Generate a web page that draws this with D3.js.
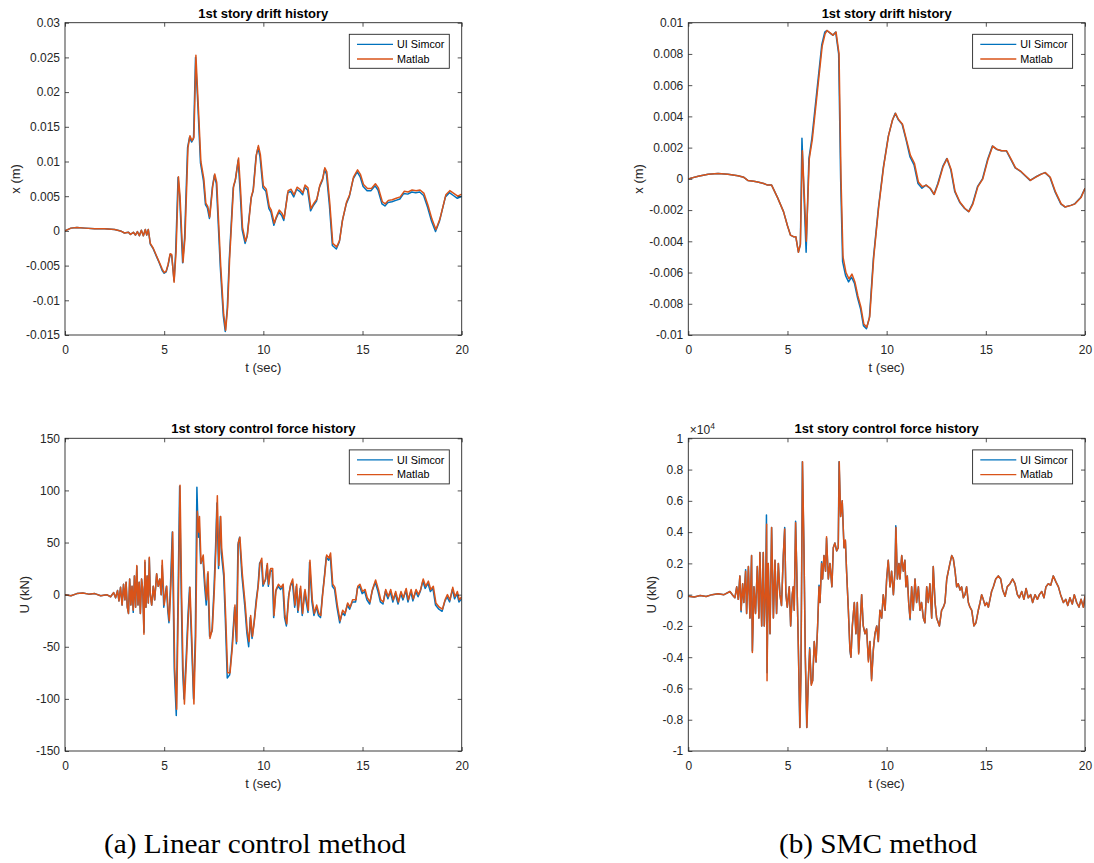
<!DOCTYPE html>
<html>
<head>
<meta charset="utf-8">
<script src="https://cdn.jsdelivr.net/npm/d3@7/dist/d3.min.js"></script>
<style>
  html, body { margin: 0; padding: 0; background: #fff; }
  svg { display: block; }
  text { font-family: "Liberation Sans", Arial, sans-serif; }
</style>
</head>
<body>
<svg id="chart" width="1094" height="863"></svg>
<script>
// ---------------- DATA ----------------
const timeTicks = [0, 5, 10, 15, 20];
const driftATicks = [-0.015, -0.01, -0.005, 0, 0.005, 0.01, 0.015, 0.02, 0.025, 0.03];
const driftBTicks = [-0.01, -0.008, -0.006, -0.004, -0.002, 0, 0.002, 0.004, 0.006, 0.008, 0.01];
const forceATicks = [-150, -100, -50, 0, 50, 100, 150];
const forceBTicks = [-10000, -8000, -6000, -4000, -2000, 0, 2000, 4000, 6000, 8000, 10000];
const seriesNames = ["UI Simcor", "Matlab"];
const panelTitles = ["1st story drift history", "1st story drift history", "1st story control force history", "1st story control force history"];
const captions = ["(a) Linear control method", "(b) SMC method"];

// (a) Linear control - drift x (m) vs t (sec)
const driftA_Matlab = [[0,0],[0.3,0.0004],[0.6,0.0005],[1,0.0004],[1.5,0.0003],[2,0.0003],[2.5,0.0002],[2.8,0],[3,-0.0003],[3.2,-0.0002],[3.3,-0.0005],[3.45,-0.0002],[3.55,-0.0006],[3.65,-0.0001],[3.75,-0.0007],[3.85,0.0001],[3.95,-0.0007],[4.05,0.0002],[4.12,-0.0006],[4.2,0.0002],[4.3,-0.0018],[4.45,-0.0025],[4.6,-0.0035],[4.75,-0.0045],[4.9,-0.0055],[5.0,-0.006],[5.1,-0.0058],[5.2,-0.0048],[5.3,-0.0033],[5.38,-0.0034],[5.5,-0.0074],[5.6,-0.003],[5.72,0.0078],[5.8,0.005],[5.95,-0.0045],[6.05,-0.001],[6.2,0.012],[6.3,0.0137],[6.4,0.013],[6.5,0.0135],[6.6,0.0253],[6.72,0.018],[6.85,0.01],[7.0,0.0075],[7.1,0.004],[7.2,0.0035],[7.3,0.002],[7.45,0.0065],[7.55,0.0082],[7.65,0.007],[7.75,0.001],[7.85,-0.005],[8.0,-0.012],[8.1,-0.0143],[8.2,-0.011],[8.3,-0.004],[8.5,0.0065],[8.6,0.0075],[8.75,0.0105],[8.85,0.006],[8.95,0.0005],[9.1,-0.0015],[9.2,-0.0005],[9.4,0.005],[9.5,0.006],[9.65,0.011],[9.75,0.0123],[9.85,0.011],[10.0,0.0065],[10.15,0.006],[10.3,0.0035],[10.4,0.003],[10.55,0.0011],[10.65,0.002],[10.8,0.003],[10.95,0.0025],[11.05,0.0018],[11.25,0.0058],[11.4,0.006],[11.55,0.0052],[11.7,0.0063],[11.85,0.006],[12.0,0.0055],[12.1,0.0066],[12.25,0.0062],[12.4,0.0032],[12.55,0.004],[12.7,0.0046],[12.85,0.0066],[13.0,0.0076],[13.1,0.0091],[13.2,0.0085],[13.35,0.004],[13.5,-0.0018],[13.7,-0.0023],[13.85,-0.0013],[14.0,0.0017],[14.2,0.0042],[14.35,0.0052],[14.55,0.0078],[14.75,0.0088],[14.9,0.0081],[15.05,0.0067],[15.25,0.0061],[15.45,0.0061],[15.65,0.0068],[15.8,0.0062],[16.0,0.0042],[16.15,0.0039],[16.3,0.0044],[16.5,0.0045],[16.7,0.0047],[16.9,0.0049],[17.1,0.0057],[17.3,0.0056],[17.5,0.0059],[17.7,0.0058],[17.9,0.0059],[18.1,0.0054],[18.3,0.0037],[18.5,0.0017],[18.7,0.0002],[18.9,0.0017],[19.2,0.0052],[19.4,0.0058],[19.6,0.0054],[19.8,0.005],[20,0.0053]];
const driftA_Simcor = [[0,0],[0.3,0.0004],[0.6,0.0005],[1,0.0004],[1.5,0.0003],[2,0.0003],[2.5,0.0002],[2.8,0],[3,-0.0003],[3.2,-0.0002],[3.3,-0.0005],[3.45,-0.0002],[3.55,-0.0006],[3.65,-0.0001],[3.75,-0.0007],[3.85,0.0001],[3.95,-0.0007],[4.05,0.0002],[4.12,-0.0006],[4.2,0.0002],[4.3,-0.0019],[4.45,-0.0026],[4.6,-0.0036],[4.75,-0.0046],[4.9,-0.0057],[5.0,-0.0061],[5.1,-0.0059],[5.2,-0.0049],[5.3,-0.0034],[5.38,-0.0036],[5.5,-0.0072],[5.58,-0.003],[5.7,0.0077],[5.78,0.005],[5.93,-0.0046],[6.03,-0.001],[6.18,0.012],[6.28,0.0135],[6.38,0.0128],[6.48,0.0133],[6.58,0.025],[6.7,0.018],[6.83,0.0098],[6.98,0.0072],[7.08,0.0038],[7.18,0.0033],[7.28,0.0018],[7.43,0.0063],[7.53,0.008],[7.63,0.0068],[7.73,0.0008],[7.83,-0.0052],[7.98,-0.0122],[8.08,-0.0145],[8.18,-0.0112],[8.28,-0.0042],[8.48,0.0062],[8.58,0.0072],[8.73,0.0102],[8.83,0.0057],[8.93,0.0002],[9.08,-0.0018],[9.18,-0.0008],[9.38,0.0047],[9.48,0.0057],[9.63,0.0107],[9.73,0.012],[9.83,0.0107],[9.98,0.0062],[10.13,0.0057],[10.28,0.0032],[10.38,0.0027],[10.53,0.0008],[10.63,0.0017],[10.78,0.0027],[10.93,0.0022],[11.03,0.0015],[11.23,0.0055],[11.38,0.0057],[11.53,0.0049],[11.68,0.006],[11.83,0.0057],[11.98,0.0052],[12.08,0.0063],[12.23,0.0059],[12.38,0.0029],[12.53,0.0037],[12.68,0.0043],[12.83,0.0063],[12.98,0.0073],[13.08,0.0088],[13.18,0.0082],[13.33,0.0037],[13.48,-0.0021],[13.68,-0.0026],[13.83,-0.0016],[13.98,0.0014],[14.18,0.0039],[14.33,0.0049],[14.53,0.0075],[14.73,0.0085],[14.88,0.0078],[15.03,0.0064],[15.23,0.0058],[15.43,0.0058],[15.63,0.0065],[15.78,0.0059],[15.98,0.0039],[16.13,0.0036],[16.28,0.0041],[16.48,0.0042],[16.68,0.0044],[16.88,0.0046],[17.08,0.0054],[17.28,0.0053],[17.48,0.0056],[17.68,0.0055],[17.88,0.0056],[18.08,0.0051],[18.28,0.0034],[18.48,0.0014],[18.68,-0.0001],[18.88,0.0014],[19.18,0.0049],[19.38,0.0055],[19.58,0.0051],[19.78,0.0047],[20,0.005]];

// (b) SMC - drift x (m) vs t (sec)
const driftB_Matlab = [[0,0],[0.5,0.00017],[1,0.0003],[1.5,0.00035],[2,0.0003],[2.5,0.0002],[2.8,0.0001],[3,-0.0001],[3.3,-0.00015],[3.5,-0.0002],[3.8,-0.0003],[4,-0.0004],[4.2,-0.0004],[4.5,-0.0012],[4.8,-0.0021],[5.0,-0.003],[5.15,-0.0036],[5.3,-0.0037],[5.42,-0.0037],[5.55,-0.0047],[5.65,-0.0042],[5.75,0.0018],[5.85,-0.001],[5.95,-0.004],[6.1,0.0013],[6.25,0.0025],[6.5,0.0055],[6.75,0.0085],[6.9,0.0093],[7.0,0.0095],[7.2,0.0093],[7.3,0.0092],[7.45,0.0094],[7.6,0.008],[7.7,0.0],[7.8,-0.005],[7.95,-0.006],[8.1,-0.0064],[8.25,-0.0061],[8.4,-0.0066],[8.55,-0.0075],[8.7,-0.0082],[8.85,-0.0093],[9.0,-0.0095],[9.15,-0.0088],[9.35,-0.005],[9.6,-0.0018],[9.85,0.0008],[10.1,0.0028],[10.3,0.0038],[10.45,0.0042],[10.6,0.0038],[10.8,0.0035],[11.0,0.0025],[11.2,0.0015],[11.4,0.001],[11.6,-0.0002],[11.8,-0.0005],[12.0,-0.0004],[12.2,-0.0006],[12.4,-0.001],[12.6,-0.0003],[12.85,0.0008],[13.05,0.0013],[13.25,0.0006],[13.45,-0.0008],[13.7,-0.0015],[13.95,-0.0019],[14.15,-0.0021],[14.35,-0.0016],[14.6,-0.0005],[14.85,0.0],[15.1,0.0012],[15.35,0.0021],[15.55,0.0019],[15.8,0.0018],[16.05,0.0018],[16.3,0.0012],[16.5,0.0007],[16.75,0.0005],[17.0,0.0002],[17.25,-0.0001],[17.5,0.0001],[17.8,0.0003],[18.0,0.0004],[18.25,0.0001],[18.5,-0.0008],[18.8,-0.0016],[19.0,-0.0018],[19.3,-0.0017],[19.5,-0.0016],[19.8,-0.0012],[20,-0.0006]];
const driftB_Simcor = [[0,0],[0.5,0.00017],[1,0.0003],[1.5,0.00035],[2,0.0003],[2.5,0.0002],[2.8,0.0001],[3,-0.0001],[3.3,-0.00015],[3.5,-0.0002],[3.8,-0.0003],[4,-0.0004],[4.2,-0.0004],[4.5,-0.0012],[4.8,-0.0021],[5.0,-0.003],[5.15,-0.0036],[5.3,-0.0037],[5.42,-0.0037],[5.55,-0.0047],[5.65,-0.0042],[5.73,0.0026],[5.83,-0.001],[5.94,-0.0047],[6.08,0.0013],[6.23,0.0026],[6.48,0.0056],[6.73,0.0086],[6.88,0.0094],[6.98,0.0095],[7.18,0.0093],[7.28,0.0092],[7.43,0.0094],[7.58,0.008],[7.68,0.0],[7.78,-0.0053],[7.93,-0.0062],[8.08,-0.0066],[8.23,-0.0063],[8.38,-0.0067],[8.53,-0.0076],[8.68,-0.0083],[8.83,-0.0094],[8.98,-0.0096],[9.13,-0.0089],[9.33,-0.0051],[9.58,-0.0019],[9.83,0.0007],[10.08,0.0027],[10.28,0.0037],[10.43,0.0042],[10.58,0.0038],[10.78,0.0035],[10.98,0.0025],[11.18,0.0014],[11.38,0.0009],[11.58,-0.0003],[11.78,-0.0006],[11.98,-0.0004],[12.18,-0.0006],[12.38,-0.001],[12.58,-0.0003],[12.83,0.0008],[13.03,0.0013],[13.23,0.0006],[13.43,-0.0008],[13.68,-0.0015],[13.93,-0.0019],[14.13,-0.0021],[14.33,-0.0016],[14.58,-0.0005],[14.83,0.0],[15.08,0.0012],[15.33,0.0021],[15.53,0.0019],[15.78,0.0018],[16.03,0.0018],[16.28,0.0012],[16.48,0.0007],[16.73,0.0005],[16.98,0.0002],[17.23,-0.0001],[17.48,0.0001],[17.78,0.0003],[17.98,0.0004],[18.23,0.0001],[18.48,-0.0008],[18.78,-0.0016],[18.98,-0.0018],[19.28,-0.0017],[19.48,-0.0016],[19.78,-0.0012],[20,-0.0006]];

// (a) Linear control - control force U (kN) vs t (sec)
const forceA_Matlab = [[0,0],[0.3,-1],[0.6,1],[0.9,1.5],[1.2,0.5],[1.5,1],[1.8,-1],[2.1,0],[2.3,-2],[2.45,2],[2.55,-3],[2.65,4],[2.72,-6],[2.8,7],[2.88,-10],[2.95,10],[3.02,-5],[3.08,12],[3.14,-12],[3.2,-18],[3.26,15],[3.32,-10],[3.38,8],[3.44,-15],[3.5,18],[3.56,-12],[3.62,28],[3.68,-10],[3.74,12],[3.8,-18],[3.86,15],[3.92,5],[3.98,-38],[4.03,33],[4.08,-12],[4.14,18],[4.2,-8],[4.25,36],[4.3,0],[4.37,-10],[4.45,8],[4.52,-5],[4.62,20],[4.7,8],[4.78,15],[4.85,0],[4.9,33],[5.0,-10],[5.07,0],[5.13,8],[5.2,-15],[5.26,-25],[5.34,10],[5.43,60],[5.53,-70],[5.63,-110],[5.72,0],[5.8,105],[5.88,0],[5.95,-70],[6.02,-105],[6.13,-60],[6.22,-20],[6.3,7],[6.39,-40],[6.5,-105],[6.59,-40],[6.67,80],[6.74,60],[6.78,75],[6.86,30],[6.97,38],[7.06,10],[7.14,-5],[7.21,22],[7.31,-42],[7.43,-33],[7.53,5],[7.61,45],[7.68,95],[7.76,28],[7.85,75],[7.9,45],[8.02,20],[8.1,-20],[8.2,-75],[8.32,-75],[8.44,-50],[8.57,-10],[8.66,-45],[8.74,50],[8.82,55],[8.94,20],[9.08,-8],[9.19,-35],[9.28,-45],[9.36,-20],[9.45,-40],[9.55,-25],[9.66,-5],[9.75,10],[9.83,30],[9.92,35],[10.0,10],[10.12,15],[10.2,30],[10.27,10],[10.37,25],[10.47,25],[10.54,-20],[10.64,5],[10.76,10],[10.89,7],[11.0,10],[11.09,-20],[11.18,-28],[11.29,0],[11.38,10],[11.48,15],[11.6,-10],[11.68,10],[11.76,-15],[11.88,8],[11.98,-18],[12.1,5],[12.18,-5],[12.27,-15],[12.35,33],[12.47,-5],[12.57,-18],[12.69,-10],[12.8,-18],[12.9,-20],[12.99,0],[13.1,20],[13.19,38],[13.31,35],[13.39,40],[13.5,10],[13.61,7],[13.73,-10],[13.87,-25],[14.0,-15],[14.12,-18],[14.25,-8],[14.37,-12],[14.5,-5],[14.67,-5],[14.76,8],[14.87,10],[15.0,3],[15.13,5],[15.24,-3],[15.38,-7],[15.5,5],[15.66,14],[15.8,5],[15.92,-5],[16.05,-7],[16.17,5],[16.3,-2],[16.42,5],[16.55,-5],[16.67,3],[16.81,-7],[16.94,3],[17.06,-3],[17.2,6],[17.31,-5],[17.45,5],[17.56,-4],[17.7,5],[17.82,0],[17.93,5],[18.06,15],[18.18,8],[18.32,13],[18.44,5],[18.57,8],[18.7,-8],[18.87,-12],[19.03,-14],[19.16,-5],[19.28,0],[19.41,-5],[19.55,7],[19.66,-2],[19.78,3],[19.88,-5],[20,-2]];
const forceA_Simcor = [[0,0],[0.3,-1],[0.6,1],[0.9,1.5],[1.2,0.5],[1.5,1],[1.8,-1],[2.1,0],[2.3,-2],[2.45,2],[2.55,-3],[2.65,4],[2.72,-6],[2.8,7],[2.88,-10],[2.95,10],[3.02,-5],[3.08,12],[3.14,-12],[3.2,-18],[3.26,15],[3.32,-10],[3.38,8],[3.44,-17],[3.5,18],[3.56,-12],[3.62,27],[3.68,-10],[3.74,12],[3.8,-18],[3.86,15],[3.92,5],[3.98,-36],[4.03,31],[4.08,-12],[4.14,18],[4.2,-8],[4.25,35],[4.3,0],[4.37,-10],[4.45,8],[4.52,-5],[4.62,20],[4.7,8],[4.78,15],[4.85,0],[4.9,28],[4.98,-12],[5.05,0],[5.11,8],[5.18,-15],[5.24,-27],[5.32,10],[5.41,60],[5.51,-72],[5.61,-116],[5.7,0],[5.78,104],[5.86,0],[5.93,-72],[6.0,-100],[6.11,-60],[6.2,-20],[6.28,7],[6.37,-40],[6.48,-100],[6.57,-40],[6.65,103],[6.72,55],[6.76,70],[6.84,30],[6.95,36],[7.04,8],[7.12,-10],[7.19,20],[7.29,-40],[7.41,-35],[7.51,5],[7.59,45],[7.66,88],[7.74,25],[7.83,75],[7.88,40],[8.0,18],[8.08,-22],[8.18,-80],[8.3,-77],[8.42,-50],[8.55,-12],[8.64,-47],[8.72,48],[8.8,55],[8.92,18],[9.06,-10],[9.17,-37],[9.26,-50],[9.34,-22],[9.43,-42],[9.53,-27],[9.64,-5],[9.73,8],[9.81,30],[9.9,33],[9.98,8],[10.1,14],[10.18,28],[10.25,8],[10.35,24],[10.45,22],[10.52,-22],[10.62,3],[10.74,8],[10.87,5],[10.98,8],[11.07,-22],[11.16,-30],[11.27,-2],[11.36,8],[11.46,13],[11.58,-12],[11.66,8],[11.74,-17],[11.86,6],[11.96,-20],[12.08,3],[12.16,-7],[12.25,-17],[12.33,31],[12.45,-7],[12.55,-20],[12.67,-12],[12.78,-20],[12.88,-22],[12.97,-2],[13.08,18],[13.17,36],[13.29,33],[13.37,38],[13.48,8],[13.59,5],[13.71,-12],[13.85,-27],[13.98,-17],[14.1,-20],[14.23,-10],[14.35,-14],[14.48,-7],[14.65,-7],[14.74,6],[14.85,8],[14.98,1],[15.11,3],[15.22,-5],[15.36,-9],[15.48,3],[15.64,12],[15.78,3],[15.9,-7],[16.03,-9],[16.15,3],[16.28,-4],[16.4,3],[16.53,-7],[16.65,1],[16.79,-9],[16.92,1],[17.04,-5],[17.18,4],[17.29,-7],[17.43,3],[17.54,-6],[17.68,3],[17.8,-2],[17.91,3],[18.04,13],[18.16,6],[18.3,11],[18.42,3],[18.55,6],[18.68,-10],[18.85,-14],[19.01,-16],[19.14,-7],[19.26,-2],[19.39,-7],[19.53,5],[19.64,-4],[19.76,1],[19.86,-7],[20,-4]];

// (b) SMC - control force U (kN) vs t (sec)
const forceB_Matlab = [[0,-100],[0.3,-150],[0.6,-50],[0.9,-120],[1.2,0],[1.5,50],[1.8,0],[2.1,200],[2.25,-50],[2.35,-200],[2.44,500],[2.52,-300],[2.6,1200],[2.66,-1000],[2.74,700],[2.8,-500],[2.89,1500],[2.94,-1200],[3.03,1800],[3.11,-1500],[3.19,2500],[3.23,-3700],[3.31,500],[3.39,-1200],[3.48,1800],[3.56,-1500],[3.61,2700],[3.7,-2000],[3.78,2700],[3.83,-2000],[3.9,500],[3.95,4500],[3.97,-5500],[4.03,2000],[4.12,-2500],[4.2,4300],[4.29,-1500],[4.37,2200],[4.45,-1200],[4.54,2000],[4.62,0],[4.7,-700],[4.79,2500],[4.86,4200],[4.92,0],[4.99,-800],[5.09,500],[5.16,-2000],[5.24,0],[5.29,500],[5.34,-1000],[5.41,4600],[5.46,2000],[5.55,-3500],[5.63,-8500],[5.68,-5000],[5.76,8500],[5.83,3000],[5.9,-4000],[5.98,-8500],[6.05,-5500],[6.12,-3500],[6.2,-5800],[6.27,-5500],[6.35,-3000],[6.44,-4300],[6.52,-2000],[6.59,500],[6.64,-500],[6.72,2000],[6.77,1000],[6.84,2500],[6.92,1500],[6.97,3700],[7.06,1000],[7.14,2000],[7.24,500],[7.31,3000],[7.39,3300],[7.48,2800],[7.56,3000],[7.61,8500],[7.68,5000],[7.76,6000],[7.85,3000],[7.92,3500],[7.98,1500],[8.07,-1000],[8.15,-3500],[8.2,-4000],[8.27,-2000],[8.37,-500],[8.45,-2500],[8.52,-500],[8.59,-3800],[8.66,-2000],[8.74,0],[8.82,-2000],[8.91,-2500],[8.99,-2200],[9.08,-4300],[9.16,-3000],[9.24,-5500],[9.33,-3500],[9.41,-2500],[9.5,-2000],[9.58,-3000],[9.66,-1000],[9.75,-1500],[9.83,0],[9.92,-1000],[10.0,1000],[10.08,2200],[10.17,500],[10.25,1500],[10.34,0],[10.42,1500],[10.47,4300],[10.54,1000],[10.62,2000],[10.67,1000],[10.76,2500],[10.84,1500],[10.92,2200],[10.97,500],[11.04,1200],[11.11,-500],[11.18,-1500],[11.26,500],[11.34,-1000],[11.43,1000],[11.51,-500],[11.6,500],[11.68,-1000],[11.76,-500],[11.85,-1500],[11.93,-1800],[12.02,500],[12.1,-500],[12.18,700],[12.27,-1500],[12.35,1800],[12.44,-500],[12.52,-1500],[12.66,-2000],[12.77,-1000],[12.86,-800],[12.94,-500],[13.03,1000],[13.11,1500],[13.19,2000],[13.28,2500],[13.36,2300],[13.45,1500],[13.53,500],[13.61,700],[13.7,300],[13.78,500],[13.87,-200],[13.95,0],[14.03,500],[14.12,-500],[14.2,-800],[14.29,-1000],[14.4,-2000],[14.5,-1800],[14.62,-1000],[14.71,-500],[14.79,0],[14.87,-300],[14.96,-700],[15.04,-500],[15.13,-800],[15.21,-300],[15.29,200],[15.38,500],[15.5,1000],[15.63,1200],[15.75,1000],[15.85,300],[15.97,-100],[16.08,500],[16.22,700],[16.35,1000],[16.47,700],[16.59,0],[16.69,-200],[16.81,200],[16.92,-300],[17.03,400],[17.14,-200],[17.26,0],[17.36,-500],[17.48,0],[17.6,-300],[17.7,0],[17.82,200],[17.93,-200],[18.03,500],[18.15,700],[18.27,600],[18.4,1200],[18.54,800],[18.66,500],[18.77,0],[18.91,-500],[19.03,-300],[19.13,-700],[19.24,-200],[19.36,-600],[19.46,0],[19.58,-500],[19.7,-800],[19.8,-300],[19.92,-800],[20,-100]];
const forceB_Simcor = [[0,-100],[0.3,-150],[0.6,-50],[0.9,-120],[1.2,0],[1.5,50],[1.8,0],[2.1,200],[2.25,-50],[2.35,-200],[2.44,500],[2.52,-300],[2.6,1200],[2.66,-1100],[2.74,700],[2.8,-500],[2.89,1600],[2.94,-1200],[3.03,1800],[3.11,-1500],[3.19,2500],[3.23,-3600],[3.31,500],[3.39,-1200],[3.48,1800],[3.56,-1500],[3.61,2700],[3.7,-2000],[3.78,2700],[3.83,-2000],[3.9,500],[3.94,5100],[3.97,-5000],[4.03,2000],[4.12,-2500],[4.2,4300],[4.29,-1500],[4.37,2200],[4.45,-1200],[4.54,2000],[4.62,0],[4.7,-700],[4.79,2500],[4.86,4300],[4.92,0],[4.99,-800],[5.09,500],[5.16,-2000],[5.24,0],[5.29,500],[5.34,-1000],[5.41,4700],[5.46,2000],[5.55,-3500],[5.62,-8500],[5.68,-5000],[5.75,8500],[5.83,3000],[5.9,-4000],[5.97,-8500],[6.05,-5500],[6.12,-3400],[6.2,-5700],[6.27,-5500],[6.35,-3000],[6.44,-4300],[6.52,-2000],[6.59,600],[6.64,-500],[6.72,2100],[6.77,1000],[6.84,2500],[6.92,1500],[6.97,3600],[7.06,1000],[7.14,2000],[7.24,500],[7.31,3000],[7.39,3300],[7.48,2800],[7.56,3000],[7.6,8500],[7.68,5000],[7.76,6000],[7.85,3000],[7.92,3400],[7.98,1500],[8.07,-1000],[8.15,-3600],[8.2,-4000],[8.27,-2000],[8.37,-500],[8.45,-2500],[8.52,-500],[8.59,-3700],[8.66,-2000],[8.74,0],[8.82,-2000],[8.91,-2500],[8.99,-2200],[9.08,-4200],[9.16,-3000],[9.24,-5400],[9.33,-3500],[9.41,-2500],[9.5,-2000],[9.58,-3000],[9.66,-1000],[9.75,-1500],[9.83,0],[9.92,-1000],[10.0,1000],[10.08,2200],[10.17,500],[10.25,1500],[10.34,0],[10.42,1500],[10.46,4400],[10.54,1000],[10.62,2000],[10.67,1000],[10.76,2500],[10.84,1500],[10.92,2200],[10.97,500],[11.04,1200],[11.11,-500],[11.18,-1600],[11.26,500],[11.34,-1000],[11.43,1000],[11.51,-500],[11.6,500],[11.68,-1000],[11.76,-500],[11.85,-1500],[11.93,-1800],[12.02,500],[12.1,-500],[12.18,700],[12.27,-1500],[12.35,1800],[12.44,-500],[12.52,-1500],[12.66,-2000],[12.77,-1000],[12.86,-800],[12.94,-500],[13.03,1000],[13.11,1500],[13.19,2000],[13.28,2500],[13.36,2300],[13.45,1500],[13.53,500],[13.61,700],[13.7,300],[13.78,500],[13.87,-200],[13.95,0],[14.03,500],[14.12,-500],[14.2,-800],[14.29,-1000],[14.4,-2000],[14.5,-1800],[14.62,-1000],[14.71,-500],[14.79,0],[14.87,-300],[14.96,-700],[15.04,-500],[15.13,-800],[15.21,-300],[15.29,200],[15.38,500],[15.5,1000],[15.63,1200],[15.75,1000],[15.85,300],[15.97,-100],[16.08,500],[16.22,700],[16.35,1000],[16.47,700],[16.59,0],[16.69,-200],[16.81,200],[16.92,-300],[17.03,400],[17.14,-200],[17.26,0],[17.36,-500],[17.48,0],[17.6,-300],[17.7,0],[17.82,200],[17.93,-200],[18.03,500],[18.15,700],[18.27,600],[18.4,1200],[18.54,800],[18.66,500],[18.77,0],[18.91,-500],[19.03,-300],[19.13,-700],[19.24,-200],[19.36,-600],[19.46,0],[19.58,-500],[19.7,-800],[19.8,-300],[19.92,-800],[20,-100]];

// ---------------- DRAWING ----------------
const svg = d3.select("#chart");
svg.append("rect").attr("width", 1094).attr("height", 863).attr("fill", "#fff");

const COLOR_SIMCOR = "#0072BD";
const COLOR_MATLAB = "#D95319";
const AXC = "#262626";

const trimNum = d => String(+d.toFixed(4));

const panels = [
  { left: 65, top: 22.7, right: 461.7, bottom: 335, yDomain: [-0.015, 0.03], yTicks: driftATicks, fmt: trimNum,
    title: panelTitles[0], ylabel: "x (m)", ylabelX: 15.7, simcor: driftA_Simcor, matlab: driftA_Matlab },
  { left: 688.3, top: 22.7, right: 1085, bottom: 335, yDomain: [-0.01, 0.01], yTicks: driftBTicks, fmt: trimNum,
    title: panelTitles[1], ylabel: "x (m)", ylabelX: 638.3, simcor: driftB_Simcor, matlab: driftB_Matlab },
  { left: 65, top: 438.3, right: 461.7, bottom: 751, yDomain: [-150, 150], yTicks: forceATicks, fmt: trimNum,
    title: panelTitles[2], ylabel: "U (kN)", ylabelX: 24, simcor: forceA_Simcor, matlab: forceA_Matlab },
  { left: 688.3, top: 438.3, right: 1085, bottom: 751, yDomain: [-10000, 10000], yTicks: forceBTicks, fmt: d => trimNum(d / 10000),
    title: panelTitles[3], ylabel: "U (kN)", ylabelX: 651.7, simcor: forceB_Simcor, matlab: forceB_Matlab, exponent: true }
];

panels.forEach((p, i) => {
  const w = p.right - p.left, h = p.bottom - p.top;
  const x = d3.scaleLinear().domain([0, 20]).range([0, w]);
  const y = d3.scaleLinear().domain(p.yDomain).range([h, 0]);
  const g = svg.append("g").attr("transform", `translate(${p.left},${p.top})`);

  g.append("rect").attr("width", w).attr("height", h).attr("fill", "#fff");

  const clipId = "clip" + i;
  g.append("clipPath").attr("id", clipId).append("rect").attr("width", w).attr("height", h);

  const line = d3.line().x(d => x(d[0])).y(d => y(d[1]));
  const lines = g.append("g").attr("clip-path", `url(#${clipId})`);
  lines.append("path").datum(p.simcor).attr("d", line)
    .attr("fill", "none").attr("stroke", COLOR_SIMCOR).attr("stroke-width", 1.5).attr("stroke-linejoin", "round");
  lines.append("path").datum(p.matlab).attr("d", line)
    .attr("fill", "none").attr("stroke", COLOR_MATLAB).attr("stroke-width", 1.5).attr("stroke-linejoin", "round");

  const styleAxis = sel => {
    sel.select(".domain").remove();
    sel.selectAll(".tick line").attr("stroke", AXC).attr("stroke-width", 0.8);
    sel.selectAll(".tick text").attr("fill", AXC).style("font-size", "12px").style("font-family", '"Liberation Sans", Arial, sans-serif');
  };
  g.append("g").attr("transform", `translate(0,${h})`)
    .call(d3.axisBottom(x).tickValues(timeTicks).tickFormat(trimNum).tickSizeInner(-4).tickSizeOuter(0).tickPadding(10))
    .call(styleAxis);
  g.append("g")
    .call(d3.axisTop(x).tickValues(timeTicks).tickFormat("").tickSizeInner(-4).tickSizeOuter(0))
    .call(styleAxis);
  g.append("g")
    .call(d3.axisLeft(y).tickValues(p.yTicks).tickFormat(p.fmt).tickSizeInner(-4).tickSizeOuter(0).tickPadding(5))
    .call(styleAxis);
  g.append("g").attr("transform", `translate(${w},0)`)
    .call(d3.axisRight(y).tickValues(p.yTicks).tickFormat("").tickSizeInner(-4).tickSizeOuter(0))
    .call(styleAxis);

  g.append("rect").attr("width", w).attr("height", h).attr("fill", "none")
    .attr("stroke", AXC).attr("stroke-width", 0.9);

  g.append("text").attr("x", w / 2).attr("y", -9.4).attr("dy", "0.35em")
    .attr("text-anchor", "middle").attr("font-weight", "bold").attr("font-size", 13)
    .attr("fill", "#000").text(p.title);
  g.append("text").attr("x", w / 2).attr("y", h + 32.5).attr("dy", "0.35em")
    .attr("text-anchor", "middle").attr("font-size", 13).attr("fill", AXC).text("t (sec)");
  svg.append("text").attr("transform", `translate(${p.ylabelX},${p.top + h / 2}) rotate(-90)`)
    .attr("dy", "0.35em").attr("text-anchor", "middle").attr("font-size", 13).attr("fill", AXC).text(p.ylabel);

  if (p.exponent) {
    const ex = svg.append("text").attr("x", p.left + 1.5).attr("y", p.top - 4.5)
      .attr("font-size", 12).attr("fill", AXC);
    ex.append("tspan").text("\u00d710");
    ex.append("tspan").attr("font-size", 8.5).attr("dy", -5).text("4");
  }

  const lg = g.append("g").attr("transform", `translate(${w - 112.4},11.6)`);
  lg.append("rect").attr("width", 100).attr("height", 34).attr("fill", "#fff")
    .attr("stroke", AXC).attr("stroke-width", 0.9);
  [[seriesNames[0], COLOR_SIMCOR], [seriesNames[1], COLOR_MATLAB]].forEach((s, k) => {
    const yy = 10 + k * 14.7;
    lg.append("line").attr("x1", 7.7).attr("x2", 43.7).attr("y1", yy).attr("y2", yy)
      .attr("stroke", s[1]).attr("stroke-width", 1.3);
    lg.append("text").attr("x", 47.7).attr("y", yy).attr("dy", "0.35em")
      .attr("font-size", 10.8).attr("fill", "#000").text(s[0]);
  });
});

// captions
svg.append("text").attr("x", 104).attr("y", 853)
  .attr("textLength", 302).attr("lengthAdjust", "spacingAndGlyphs")
  .style("font-family", '"Liberation Serif", "Times New Roman", serif').attr("font-size", 27)
  .attr("fill", "#000").text(captions[0]);
svg.append("text").attr("x", 779).attr("y", 853)
  .attr("textLength", 198).attr("lengthAdjust", "spacingAndGlyphs")
  .style("font-family", '"Liberation Serif", "Times New Roman", serif').attr("font-size", 27)
  .attr("fill", "#000").text(captions[1]);
</script>
</body>
</html>
